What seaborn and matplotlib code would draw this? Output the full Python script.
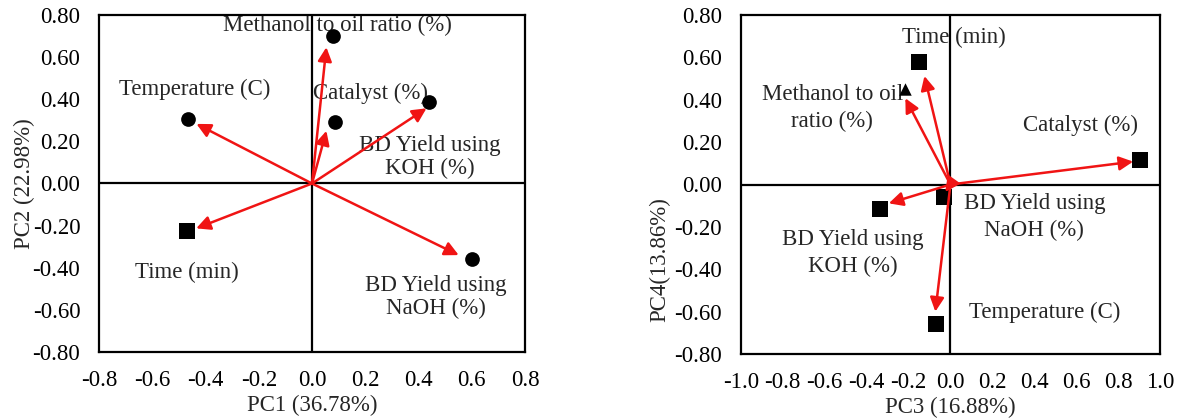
import numpy as np
import pandas as pd
import matplotlib
matplotlib.use("Agg")
import matplotlib.pyplot as plt
import seaborn as sns

# ---------------- data: left panel (PC1 vs PC2) ----------------
left_vars = ["Methanol", "Catalyst", "KOH", "Temperature", "Time", "NaOH"]
pc1_points = [0.080, 0.085, 0.440, -0.465, -0.470, 0.600]
pc2_points = [0.700, 0.290, 0.388, 0.305, -0.226, -0.360]
pc1_arrows = [0.054, 0.054, 0.430, -0.434, -0.435, 0.551]
pc2_arrows = [0.647, 0.250, 0.357, 0.283, -0.213, -0.340]
left_markers = ["o", "o", "o", "o", "s", "o"]
left_labels = ["Methanol to oil ratio (%)", "Catalyst (%)", "BD Yield using\nKOH (%)",
               "Temperature (C)", "Time (min)", "BD Yield using\nNaOH (%)"]
left_label_x = [0.096, 0.218, 0.443, -0.439, -0.469, 0.464]
left_label_y = [0.748, 0.428, 0.127, 0.447, -0.424, -0.537]

# ---------------- data: right panel (PC3 vs PC4) ----------------
right_vars = ["Time", "Methanol", "Catalyst", "KOH", "NaOH", "Temperature"]
pc3_points = [-0.148, -0.216, 0.903, -0.337, -0.032, -0.068]
pc4_points = [0.580, 0.449, 0.116, -0.116, -0.058, -0.658]
pc3_arrows = [-0.124, -0.215, 0.871, -0.294, -0.025, -0.072]
pc4_arrows = [0.512, 0.407, 0.108, -0.089, -0.035, -0.600]
right_markers = ["s", "^", "s", "s", "s", "s"]
right_labels = ["Time (min)", "Methanol to oil\nratio (%)", "Catalyst (%)",
                "BD Yield using\nKOH (%)", "BD Yield using\nNaOH (%)", "Temperature (C)"]
right_label_x = [0.018, -0.564, 0.622, -0.464, 0.400, 0.450]
right_label_y = [0.695, 0.360, 0.281, -0.325, -0.152, -0.603]

# ---------------- ticks ----------------
left_xticks = [-0.8, -0.6, -0.4, -0.2, 0.0, 0.2, 0.4, 0.6, 0.8]
left_xticklabels = ["-0.8", "-0.6", "-0.4", "-0.2", "0.0", "0.2", "0.4", "0.6", "0.8"]
right_xticks = [-1.0, -0.8, -0.6, -0.4, -0.2, 0.0, 0.2, 0.4, 0.6, 0.8, 1.0]
right_xticklabels = ["-1.0", "-0.8", "-0.6", "-0.4", "-0.2", "0.0", "0.2", "0.4", "0.6", "0.8", "1.0"]
yticks = [-0.8, -0.6, -0.4, -0.2, 0.0, 0.2, 0.4, 0.6, 0.8]
yticklabels = ["-0.80", "-0.60", "-0.40", "-0.20", "0.00", "0.20", "0.40", "0.60", "0.80"]

sns.set_style("white")
plt.rcParams["font.family"] = ["Liberation Serif", "DejaVu Serif"]
FS = 16.5
RED = "#f01414"

fig = plt.figure(figsize=(11.82, 4.18), dpi=100)
axL = fig.add_axes([99 / 1182, 1 - 352 / 418, 426 / 1182, 337 / 418])
axR = fig.add_axes([740.7 / 1182, 1 - 354 / 418, 419.5 / 1182, 339 / 418])

marker_sizes = {"o": 112, "s": 132, "^": 80}


def draw_panel(ax, names, px, py, ax_x, ax_y, markers, labels, lx, ly, linesp):
    df = pd.DataFrame({"var": names, "x": px, "y": py, "m": markers})
    ax.axhline(0, color="black", lw=1.6, zorder=1)
    ax.axvline(0, color="black", lw=1.6, zorder=1)
    for mk in df["m"].unique():
        sub = df[df["m"] == mk]
        sns.scatterplot(data=sub, x="x", y="y", marker=mk, s=marker_sizes[mk],
                        color="black", edgecolor="black", linewidth=0, ax=ax,
                        legend=False, zorder=3)
    for tx, ty in zip(ax_x, ax_y):
        ax.annotate("", xy=(tx, ty), xytext=(0, 0),
                    arrowprops=dict(arrowstyle="-|>", color=RED, lw=1.8,
                                    mutation_scale=21, shrinkA=0, shrinkB=0),
                    zorder=4)
    for t, x, y in zip(labels, lx, ly):
        ax.text(x, y, t, ha="center", va="center", multialignment="center",
                fontsize=FS, linespacing=linesp, zorder=2)
    for sp in ax.spines.values():
        sp.set_visible(True)
        sp.set_color("black")
        sp.set_linewidth(1.6)
    ax.tick_params(axis="both", length=0, labelsize=FS, colors="black")
    ax.tick_params(axis="x", pad=13)
    ax.tick_params(axis="y", pad=13.5)


draw_panel(axL, left_vars, pc1_points, pc2_points, pc1_arrows, pc2_arrows,
           left_markers, left_labels, left_label_x, left_label_y, 1.12)
axL.set_xlim(-0.8, 0.8)
axL.set_ylim(-0.8, 0.8)
axL.set_xticks(left_xticks)
axL.set_xticklabels(left_xticklabels)
axL.set_yticks(yticks)
axL.set_yticklabels(yticklabels)
axL.set_xlabel("PC1 (36.78%)", fontsize=FS, labelpad=3)
axL.set_ylabel("PC2 (22.98%)", fontsize=FS)
axL.yaxis.set_label_coords(-0.150, 0.5)

draw_panel(axR, right_vars, pc3_points, pc4_points, pc3_arrows, pc4_arrows,
           right_markers, right_labels, right_label_x, right_label_y, 1.35)
axR.set_xlim(-1.0, 1.0)
axR.set_ylim(-0.8, 0.8)
axR.set_xticks(right_xticks)
axR.set_xticklabels(right_xticklabels)
axR.set_yticks(yticks)
axR.set_yticklabels(yticklabels)
axR.set_xlabel("PC3 (16.88%)", fontsize=FS, labelpad=3)
axR.set_ylabel("PC4(13.86%)", fontsize=FS)
axR.yaxis.set_label_coords(-0.168, 0.28)

fig.savefig("out.png", dpi=100, facecolor="white")
